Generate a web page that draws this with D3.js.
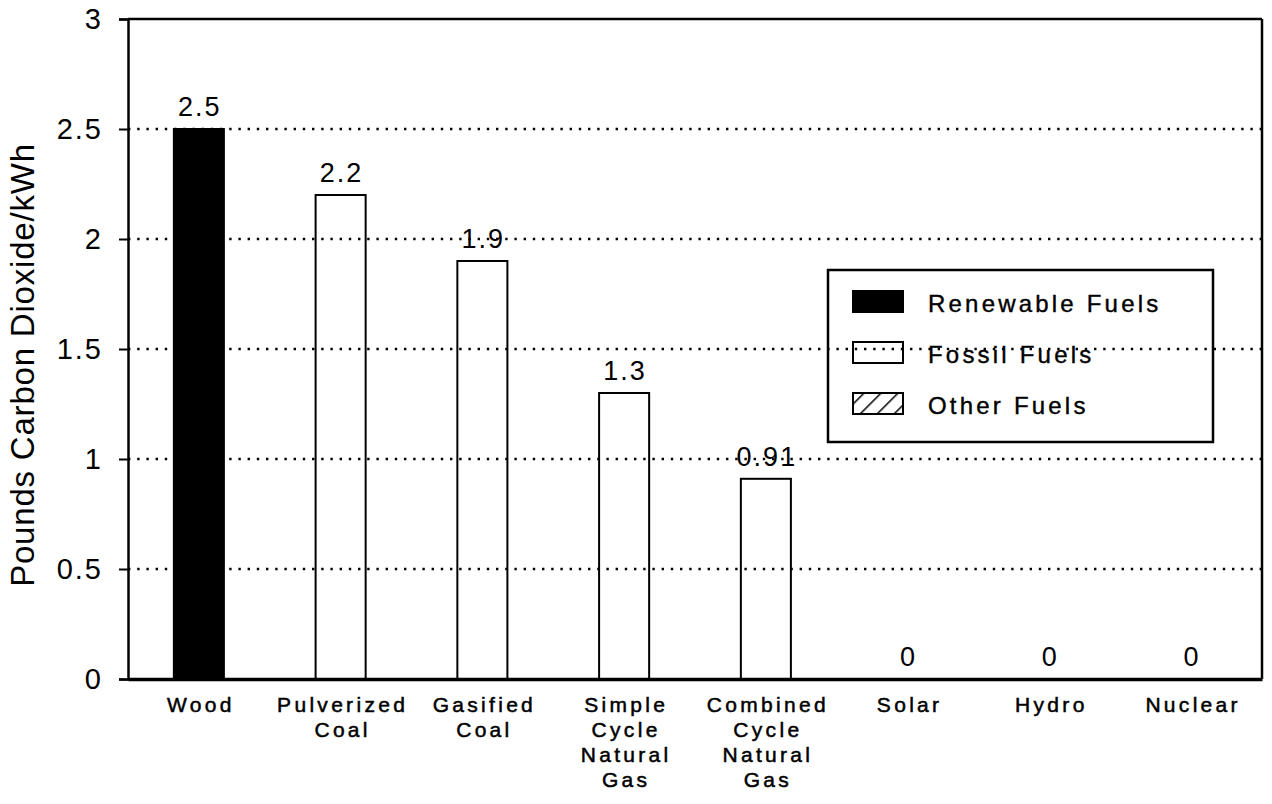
<!DOCTYPE html>
<html>
<head>
<meta charset="utf-8">
<script src="https://cdn.jsdelivr.net/npm/d3@7"></script>
<style>
  html, body { margin: 0; padding: 0; background: #fff; }
  svg { display: block; }
</style>
</head>
<body>
<svg id="chart" width="1272" height="804"></svg>
<script>
// ---- data ----
const categories = ["Wood", "Pulverized Coal", "Gasified Coal", "Simple Cycle Natural Gas",
                    "Combined Cycle Natural Gas", "Solar", "Hydro", "Nuclear"];
const categoryLines = [["Wood"], ["Pulverized", "Coal"], ["Gasified", "Coal"],
                       ["Simple", "Cycle", "Natural", "Gas"], ["Combined", "Cycle", "Natural", "Gas"],
                       ["Solar"], ["Hydro"], ["Nuclear"]];
const values = [2.5, 2.2, 1.9, 1.3, 0.91, 0, 0, 0];
const valueLabels = ["2.5", "2.2", "1.9", "1.3", "0.91", "0", "0", "0"];
const fuelTypes = ["Renewable", "Fossil", "Fossil", "Fossil", "Fossil", "Other", "Other", "Other"];
const legendKeys = ["Renewable", "Fossil", "Other"];
const legendLabels = ["Renewable Fuels", "Fossil Fuels", "Other Fuels"];
const yTicks = [0, 0.5, 1, 1.5, 2, 2.5, 3];
const gridTicks = [0.5, 1, 1.5, 2, 2.5];
const yTitle = "Pounds Carbon Dioxide/kWh";

// ---- layout ----
const svg = d3.select("#chart");
const m = { left: 128, right: 1262, top: 19, bottom: 679 };
const font = "'Liberation Sans', Arial, Helvetica, sans-serif";

const x = d3.scaleBand().domain(categories).range([m.left, m.right])
  .paddingInner(0.647).paddingOuter(0.3235);
const y = d3.scaleLinear().domain([0, 3]).range([m.bottom, m.top]);

// hatch pattern
const defs = svg.append("defs");
const pat = defs.append("pattern").attr("id", "hatch").attr("patternUnits", "userSpaceOnUse")
  .attr("width", 12).attr("height", 12).attr("patternTransform", "rotate(45)");
pat.append("line").attr("x1", 0).attr("y1", 0).attr("x2", 0).attr("y2", 12)
  .attr("stroke", "#000").attr("stroke-width", 3);

const fillFor = t => t === "Renewable" ? "#000" : (t === "Other" ? "url(#hatch)" : "none");

// gridlines
svg.append("g").selectAll("line").data(gridTicks).join("line")
  .attr("x1", m.left).attr("x2", m.right)
  .attr("y1", d => y(d)).attr("y2", d => y(d))
  .attr("stroke", "#000").attr("stroke-width", 2.4)
  .attr("stroke-dasharray", "2.4,6.8")
  .attr("stroke-linecap", "butt");

// bars
svg.append("g").selectAll("rect").data(values).join("rect")
  .attr("x", (d, i) => x(categories[i]))
  .attr("y", d => y(d))
  .attr("width", x.bandwidth())
  .attr("height", d => y(0) - y(d))
  .attr("fill", (d, i) => fillFor(fuelTypes[i]))
  .attr("stroke", d => d > 0 ? "#000" : "none")
  .attr("stroke-width", 2);

// value labels
svg.append("g").selectAll("text").data(values).join("text")
  .attr("x", (d, i) => x(categories[i]) + x.bandwidth() / 2 + 1)
  .attr("y", d => y(d) - 13)
  .attr("text-anchor", "middle")
  .attr("font-family", font).attr("font-size", 27)
  .attr("letter-spacing", 2)
  .text((d, i) => valueLabels[i]);

// frame: top and right
svg.append("line").attr("x1", m.left).attr("x2", m.right).attr("y1", m.top).attr("y2", m.top)
  .attr("stroke", "#000").attr("stroke-width", 2.5);
svg.append("line").attr("x1", m.right).attr("x2", m.right).attr("y1", m.top).attr("y2", m.bottom)
  .attr("stroke", "#000").attr("stroke-width", 2.5);

// y axis
const yAxis = d3.axisLeft(y).tickValues(yTicks).tickSize(9).tickPadding(16)
  .tickFormat(d3.format("~g"));
const gy = svg.append("g").attr("transform", `translate(${m.left},0)`).call(yAxis);
gy.select(".domain").attr("stroke-width", 2.5);
gy.selectAll(".tick line").attr("stroke-width", 2);
gy.selectAll(".tick text").attr("font-family", font).attr("font-size", 29)
  .attr("letter-spacing", 2).attr("fill", "#000");

// x axis
const xAxis = d3.axisBottom(x).tickSize(0).tickFormat("");
const gx = svg.append("g").attr("transform", `translate(0,${m.bottom})`).call(xAxis);
gx.select(".domain").attr("stroke-width", 3.5);

// category labels (one text per line)
const lineData = [];
categories.forEach((c, i) => categoryLines[i].forEach((t, j) => lineData.push({ c, t, j })));
svg.append("g").selectAll("text").data(lineData).join("text")
  .attr("x", d => x(d.c) + x.bandwidth() / 2 + 2)
  .attr("y", d => m.bottom + 33 + d.j * 25)
  .attr("text-anchor", "middle")
  .attr("font-family", font).attr("font-size", 21)
  .attr("letter-spacing", 3.3)
  .attr("stroke", "#000").attr("stroke-width", 0.5)
  .text(d => d.t);

// y title
svg.append("text")
  .attr("transform", `translate(34,365) rotate(-90)`)
  .attr("text-anchor", "middle")
  .attr("font-family", font).attr("font-size", 33)
  .attr("letter-spacing", 0.8)
  .text(yTitle);

// legend
const lg = svg.append("g");
lg.append("rect").attr("x", 828).attr("y", 270).attr("width", 385).attr("height", 172)
  .attr("fill", "none").attr("stroke", "#000").attr("stroke-width", 2.5);
const rows = lg.selectAll("g.row").data(legendKeys).join("g").attr("class", "row")
  .attr("transform", (d, i) => `translate(853,${301 + i * 51})`);
rows.append("rect").attr("x", 0).attr("y", -10).attr("width", 50).attr("height", 21)
  .attr("fill", d => fillFor(d)).attr("stroke", "#000").attr("stroke-width", 2);
rows.append("text").attr("x", 75).attr("y", 11)
  .attr("font-family", font).attr("font-size", 24).attr("letter-spacing", 3.2)
  .attr("stroke", "#000").attr("stroke-width", 0.4)
  .text((d, i) => legendLabels[i]);
</script>
</body>
</html>
